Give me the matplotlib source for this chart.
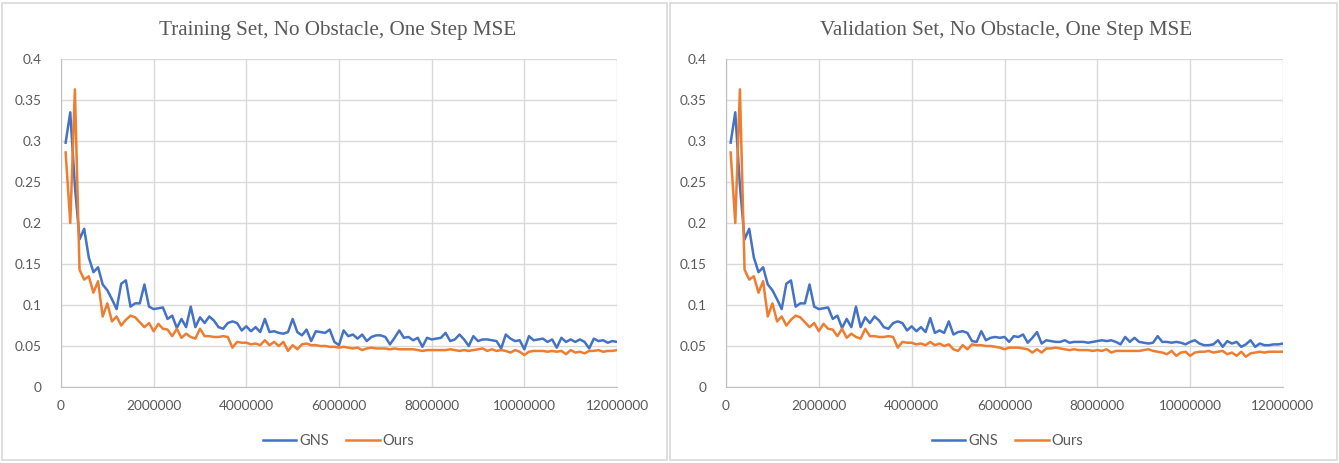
import numpy as np
import matplotlib
matplotlib.use("Agg")
import matplotlib.pyplot as plt
from matplotlib.patches import Rectangle
from matplotlib.ticker import FuncFormatter

# ---------------- data ----------------
steps = [round(0.1 * i, 1) * 1e6 for i in range(1, 121)]

common_gns = [0.298, 0.335, 0.245, 0.180, 0.193, 0.158, 0.140, 0.146, 0.125, 0.118,
              0.107, 0.095, 0.126, 0.130, 0.098, 0.102, 0.102, 0.125, 0.098, 0.095,
              0.096, 0.097, 0.083, 0.087, 0.072, 0.083, 0.073, 0.098, 0.073, 0.085,
              0.078, 0.086, 0.081, 0.073, 0.071, 0.078, 0.080, 0.078, 0.069, 0.074,
              0.068, 0.073, 0.067]
common_ours = [0.286, 0.200, 0.363, 0.143, 0.131, 0.135, 0.115, 0.129, 0.086, 0.102,
               0.080, 0.086, 0.075, 0.082, 0.087, 0.085, 0.079, 0.073, 0.078, 0.068,
               0.077, 0.071, 0.070, 0.062, 0.071, 0.060, 0.065, 0.061, 0.059, 0.071,
               0.062, 0.062, 0.061, 0.061, 0.062, 0.061, 0.048, 0.055, 0.054, 0.054,
               0.052, 0.053, 0.051]

train_gns_tail = [0.083, 0.067, 0.068, 0.066, 0.065, 0.067, 0.083, 0.067, 0.063, 0.070,
                  0.056, 0.068, 0.067, 0.066, 0.070, 0.055, 0.051, 0.069, 0.062, 0.064,
                  0.059, 0.064, 0.056, 0.061, 0.063, 0.063, 0.061, 0.052, 0.060, 0.069,
                  0.060, 0.061, 0.057, 0.060, 0.049, 0.060, 0.058, 0.059, 0.060, 0.066,
                  0.056, 0.058, 0.064, 0.058, 0.050, 0.062, 0.056, 0.058, 0.058, 0.057,
                  0.056, 0.047, 0.064, 0.059, 0.056, 0.057, 0.046, 0.062, 0.057, 0.058,
                  0.059, 0.055, 0.058, 0.048, 0.060, 0.055, 0.058, 0.055, 0.058, 0.055,
                  0.047, 0.059, 0.056, 0.057, 0.054, 0.056, 0.055]
train_ours_tail = [0.057, 0.051, 0.055, 0.050, 0.055, 0.044, 0.051, 0.046, 0.052, 0.053,
                   0.051, 0.051, 0.050, 0.050, 0.049, 0.049, 0.048, 0.049, 0.048, 0.047,
                   0.048, 0.045, 0.047, 0.048, 0.047, 0.047, 0.047, 0.046, 0.047, 0.046,
                   0.046, 0.046, 0.046, 0.045, 0.044, 0.045, 0.045, 0.045, 0.045, 0.045,
                   0.046, 0.045, 0.044, 0.045, 0.044, 0.045, 0.046, 0.047, 0.044, 0.046,
                   0.044, 0.045, 0.044, 0.042, 0.045, 0.043, 0.039, 0.043, 0.044, 0.044,
                   0.044, 0.043, 0.044, 0.043, 0.044, 0.040, 0.045, 0.042, 0.043, 0.041,
                   0.044, 0.044, 0.045, 0.043, 0.044, 0.044, 0.045]

val_gns_tail = [0.084, 0.066, 0.069, 0.066, 0.080, 0.064, 0.067, 0.068, 0.066, 0.056,
                0.055, 0.068, 0.057, 0.060, 0.061, 0.060, 0.061, 0.055, 0.062, 0.061,
                0.064, 0.054, 0.060, 0.067, 0.053, 0.057, 0.056, 0.055, 0.055, 0.057,
                0.054, 0.055, 0.055, 0.055, 0.054, 0.055, 0.056, 0.057, 0.056, 0.057,
                0.055, 0.052, 0.061, 0.055, 0.060, 0.055, 0.054, 0.053, 0.054, 0.062,
                0.055, 0.055, 0.054, 0.055, 0.054, 0.052, 0.055, 0.057, 0.053, 0.051,
                0.051, 0.052, 0.057, 0.049, 0.056, 0.053, 0.055, 0.049, 0.052, 0.057,
                0.049, 0.053, 0.051, 0.051, 0.052, 0.052, 0.053]
val_ours_tail = [0.055, 0.051, 0.053, 0.050, 0.052, 0.046, 0.044, 0.051, 0.046, 0.052,
                 0.051, 0.051, 0.050, 0.050, 0.049, 0.048, 0.046, 0.048, 0.048, 0.048,
                 0.047, 0.046, 0.042, 0.046, 0.042, 0.047, 0.047, 0.048, 0.047, 0.046,
                 0.045, 0.046, 0.045, 0.045, 0.045, 0.044, 0.045, 0.044, 0.046, 0.042,
                 0.044, 0.044, 0.044, 0.044, 0.044, 0.044, 0.045, 0.046, 0.044, 0.043,
                 0.042, 0.040, 0.044, 0.038, 0.042, 0.043, 0.038, 0.042, 0.043, 0.043,
                 0.044, 0.042, 0.043, 0.044, 0.040, 0.042, 0.038, 0.043, 0.037, 0.041,
                 0.042, 0.043, 0.042, 0.043, 0.043, 0.043, 0.043]

train_gns = common_gns + train_gns_tail
train_ours = common_ours + train_ours_tail
val_gns = common_gns + val_gns_tail
val_ours = common_ours + val_ours_tail

titles = ["Training Set, No Obstacle, One Step MSE",
          "Validation Set, No Obstacle, One Step MSE"]
series_names = ["GNS", "Ours"]
x_ticks = [0, 2000000, 4000000, 6000000, 8000000, 10000000, 12000000]
y_ticks = [0, 0.05, 0.1, 0.15, 0.2, 0.25, 0.3, 0.35, 0.4]

# ---------------- style ----------------
W, H = 1339, 463
BLUE = "#4472C4"
ORANGE = "#ED7D31"
GRID = "#D9D9D9"
TXT = "#595959"
TICKFONT = "Lato"

fig = plt.figure(figsize=(W / 100, H / 100), dpi=100)
fig.patch.set_facecolor("white")


def fx(px):
    return px / W


def fy(py):
    return 1 - py / H


panels = [
    dict(box=(2, 3, 665, 457), ax=(61, 59, 617, 387), title=titles[0],
         gns=train_gns, ours=train_ours),
    dict(box=(670, 3, 667, 457), ax=(726, 59, 1283, 387), title=titles[1],
         gns=val_gns, ours=val_ours),
]

for p in panels:
    bx, by, bw, bh = p["box"]
    fig.patches.append(Rectangle((fx(bx), fy(by + bh)), bw / W, bh / H,
                                 transform=fig.transFigure, fill=False,
                                 edgecolor=GRID, linewidth=1.2))
    x0, y0, x1, y1 = p["ax"]
    ax = fig.add_axes([fx(x0), fy(y1), (x1 - x0) / W, (y1 - y0) / H])
    l1, = ax.plot(steps, p["gns"], color=BLUE, lw=1.8, solid_joinstyle="round",
                  label=series_names[0])
    l2, = ax.plot(steps, p["ours"], color=ORANGE, lw=1.8, solid_joinstyle="round",
                  label=series_names[1])
    ax.set_xlim(0, 12000000)
    ax.set_ylim(0, 0.4)
    ax.set_xticks(x_ticks)
    ax.set_yticks(y_ticks)
    ax.xaxis.set_major_formatter(FuncFormatter(lambda v, pos: f"{int(v)}"))
    ax.yaxis.set_major_formatter(FuncFormatter(lambda v, pos: f"{v:g}"))
    ax.grid(True, color=GRID, lw=1.0)
    ax.set_axisbelow(True)
    for s in ["top", "right"]:
        ax.spines[s].set_visible(False)
    ax.spines["left"].set_color("#BFBFBF")
    ax.spines["bottom"].set_color("#BFBFBF")
    ax.tick_params(length=0, colors=TXT, labelsize=9.8, pad=9)
    for lab in ax.get_xticklabels() + ax.get_yticklabels():
        lab.set_fontfamily(TICKFONT)
    ax.tick_params(axis="y", pad=14)
    cx = (bx + bx + bw) / 2
    fig.text(fx(cx + 3), fy(30), p["title"], ha="center", va="center",
             fontsize=15.2, family="Liberation Serif", color=TXT)
    fig.legend(handles=[l1, l2], loc="center", bbox_to_anchor=(fx(cx + 4), fy(441)),
               ncol=2, frameon=False, handlelength=2.3, handletextpad=0.2,
               columnspacing=1.2, prop=dict(family=TICKFONT, size=10.5),
               labelcolor=TXT)

fig.savefig("out.png", dpi=100, facecolor="white")
